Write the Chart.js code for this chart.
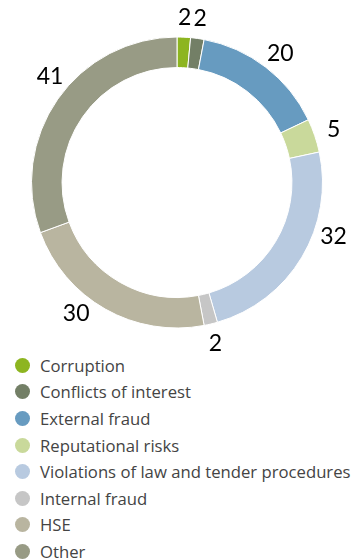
<!DOCTYPE html>
<html>
<head>
<meta charset="utf-8">
<script src="https://cdn.jsdelivr.net/npm/chart.js@4/dist/chart.umd.min.js"></script>
<style>
  body { margin: 0; background: #fff; }
  #wrap { position: relative; width: 355px; height: 352px; }
  #legend { list-style: none; margin: 0; padding: 0 0 0 15px; font-family: "Open Sans", sans-serif; font-size: 16.7px; color: #444; }
  #legend li { height: 26.6px; display: flex; align-items: center; white-space: nowrap; }
  #legend span.dot { display: inline-block; width: 15px; height: 15px; border-radius: 50%; margin-right: 10px; flex: none; }
</style>
</head>
<body>
<div id="wrap"><canvas id="donut"></canvas></div>
<ul id="legend"></ul>
<script>
const categories = ['Corruption', 'Conflicts of interest', 'External fraud', 'Reputational risks',
  'Violations of law and tender procedures', 'Internal fraud', 'HSE', 'Other'];
const cases = [2, 2, 20, 5, 32, 2, 30, 41];
const colors = ['#8db520', '#737f66', '#679bc0', '#c9d99b', '#b8cae0', '#c6c6c6', '#b9b5a0', '#989b85'];

// numbers around the ring, a few nudged like in the original layout
const outsideLabels = {
  id: 'outsideLabels',
  afterDatasetsDraw(chart, args, opts) {
    const ctx = chart.ctx;
    const meta = chart.getDatasetMeta(0);
    ctx.save();
    ctx.font = opts.font;
    ctx.fillStyle = opts.color;
    ctx.textAlign = 'center';
    ctx.textBaseline = 'middle';
    meta.data.forEach((arc, i) => {
      const nudge = (opts.nudge[i] || 0) * Math.PI / 180;
      const a = (arc.startAngle + arc.endAngle) / 2 + nudge;
      const r = arc.outerRadius + opts.offset;
      ctx.fillText(String(chart.data.datasets[0].data[i]), arc.x + Math.cos(a) * r, arc.y + Math.sin(a) * r);
    });
    ctx.restore();
  }
};

const chart = new Chart(document.getElementById('donut'), {
  type: 'doughnut',
  data: {
    labels: categories,
    datasets: [{
      data: cases,
      backgroundColor: colors,
      borderColor: '#ffffff',
      borderWidth: 1
    }]
  },
  options: {
    responsive: true,
    maintainAspectRatio: false,
    animation: false,
    cutout: '79%',
    layout: { padding: { top: 36, bottom: 23, left: 31, right: 32 } },
    plugins: {
      legend: { display: false },
      tooltip: { enabled: false },
      outsideLabels: {
        font: '23px Lato, sans-serif',
        color: '#000',
        offset: 20,
        nudge: { 0: 0, 1: 0, 2: 1, 3: 0, 4: -12, 5: 0, 6: 8, 7: 5 }
      }
    }
  },
  plugins: [outsideLabels]
});

// legend list built from the chart's own legend items
const items = chart.options.plugins.legend.labels.generateLabels(chart);
const ul = document.getElementById('legend');
items.forEach(it => {
  const li = document.createElement('li');
  const dot = document.createElement('span');
  dot.className = 'dot';
  dot.style.background = it.fillStyle;
  li.appendChild(dot);
  li.appendChild(document.createTextNode(it.text));
  ul.appendChild(li);
});
</script>
</body>
</html>
